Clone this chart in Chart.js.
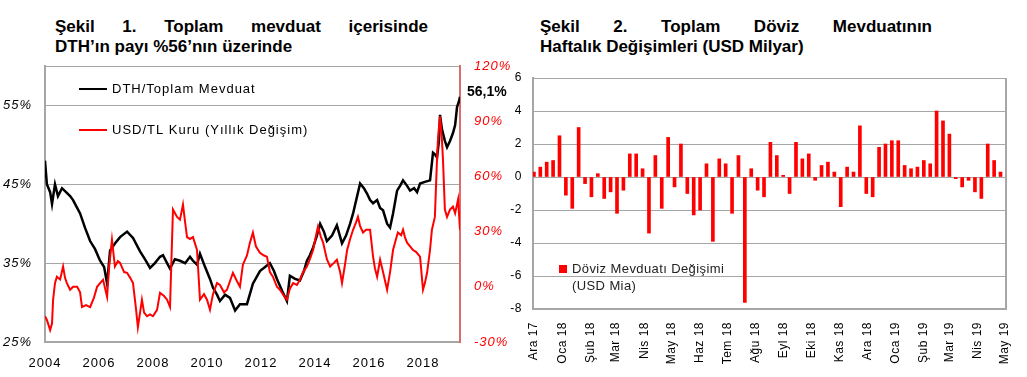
<!DOCTYPE html>
<html>
<head>
<meta charset="utf-8">
<script src="https://cdn.jsdelivr.net/npm/chart.js@4"></script>
<style>
  body { margin: 0; width: 1027px; height: 377px; position: relative; overflow: hidden; background: #fff;
         font-family: "Liberation Sans", Arial, sans-serif; }
  canvas { position: absolute; top: 0; }
  #c1 { left: 0; }
  #c2 { left: 490px; }
  .title { position: absolute; top: 17px; font-weight: bold; font-size: 17px; line-height: 20px; color: #000; }
  .title .j { text-align: justify; text-align-last: justify; }
  #t1 { left: 55px; width: 373px; }
  #t2 { left: 540px; width: 392px; }
</style>
</head>
<body>
<div class="title" id="t1"><div class="j">Şekil 1. Toplam mevduat içerisinde</div><div>DTH’ın payı %56’nın üzerinde</div></div>
<div class="title" id="t2"><div class="j">Şekil 2. Toplam Döviz Mevduatının</div><div>Haftalık Değişimleri (USD Milyar)</div></div>
<canvas id="c1" width="515" height="377"></canvas>
<canvas id="c2" width="537" height="377"></canvas>
<script>
// Şekil 1: DTH / toplam mevduat (sol eksen) ve USD/TL yıllık değişim (sağ eksen)
const dthYears = [2004.00, 2004.07, 2004.19, 2004.26, 2004.37, 2004.48, 2004.63, 2004.78, 2004.93, 2005.04,
  2005.19, 2005.30, 2005.48, 2005.67, 2005.85, 2006.04, 2006.19, 2006.30, 2006.41, 2006.59,
  2006.78, 2007.04, 2007.26, 2007.52, 2007.70, 2007.89, 2008.07, 2008.26, 2008.37, 2008.52,
  2008.63, 2008.81, 2009.00, 2009.19, 2009.37, 2009.48, 2009.63, 2009.74, 2009.93, 2010.11,
  2010.22, 2010.37, 2010.48, 2010.67, 2010.85, 2011.04, 2011.22, 2011.48, 2011.70, 2011.96,
  2012.15, 2012.33, 2012.48, 2012.59, 2012.78, 2012.96, 2013.07, 2013.26, 2013.44, 2013.59,
  2013.70, 2013.81, 2013.93, 2014.07, 2014.19, 2014.33, 2014.44, 2014.63, 2014.81, 2015.00,
  2015.15, 2015.30, 2015.41, 2015.56, 2015.67, 2015.81, 2015.93, 2016.04, 2016.15, 2016.30,
  2016.41, 2016.52, 2016.67, 2016.78, 2016.89, 2017.04, 2017.15, 2017.26, 2017.41, 2017.52,
  2017.67, 2017.78, 2017.89, 2018.07, 2018.26, 2018.37, 2018.44, 2018.52, 2018.59, 2018.63,
  2018.70, 2018.81, 2018.89, 2019.00, 2019.11, 2019.19, 2019.26, 2019.33, 2019.37];
const dthShare = [48.0, 45.0, 44.0, 42.5, 45.0, 43.5, 44.5, 44.0, 43.5, 43.0,
  42.0, 41.3, 39.5, 37.8, 36.8, 35.3, 34.5, 32.4, 36.6, 37.5,
  38.3, 39.0, 38.2, 36.5, 35.5, 34.4, 35.0, 35.8, 36.0, 35.0,
  34.3, 35.5, 35.3, 35.0, 35.8, 35.3, 34.8, 36.2, 34.5, 33.0,
  31.9, 31.0, 30.2, 31.0, 30.6, 29.0, 29.8, 29.8, 32.4, 34.0,
  34.5, 35.0, 34.0, 33.0, 31.5, 30.2, 33.4, 33.0, 32.8, 34.0,
  35.3, 36.0, 37.0, 38.5, 40.0, 39.0, 37.8, 38.5, 39.8, 37.5,
  38.5, 40.0, 41.3, 43.5, 45.1, 44.5, 43.8, 43.0, 42.6, 43.0,
  42.0, 41.7, 40.0, 39.5, 41.3, 44.2, 44.8, 45.5, 44.8, 44.2,
  44.5, 44.0, 45.1, 45.3, 45.5, 49.0, 48.8, 48.4, 50.5, 53.8,
  52.0, 50.5, 49.7, 50.5, 51.5, 52.5, 54.8, 55.5, 56.1];

const usdYears = [2004.00, 2004.07, 2004.19, 2004.26, 2004.30, 2004.37, 2004.44, 2004.56, 2004.67, 2004.74,
  2004.81, 2004.93, 2005.04, 2005.19, 2005.30, 2005.37, 2005.52, 2005.67, 2005.81, 2005.93,
  2006.04, 2006.15, 2006.30, 2006.37, 2006.48, 2006.59, 2006.70, 2006.78, 2006.93, 2007.04,
  2007.15, 2007.26, 2007.37, 2007.44, 2007.52, 2007.59, 2007.67, 2007.78, 2007.89, 2008.00,
  2008.15, 2008.26, 2008.41, 2008.52, 2008.63, 2008.74, 2008.89, 2009.00, 2009.11, 2009.19,
  2009.26, 2009.37, 2009.48, 2009.63, 2009.74, 2009.89, 2010.00, 2010.11, 2010.22, 2010.37,
  2010.48, 2010.63, 2010.74, 2010.85, 2010.96, 2011.11, 2011.22, 2011.33, 2011.48, 2011.59,
  2011.70, 2011.81, 2011.96, 2012.11, 2012.22, 2012.33, 2012.44, 2012.59, 2012.70, 2012.85,
  2012.96, 2013.07, 2013.19, 2013.33, 2013.44, 2013.56, 2013.70, 2013.81, 2013.93, 2014.04,
  2014.11, 2014.22, 2014.30, 2014.44, 2014.56, 2014.70, 2014.81, 2014.93, 2015.00, 2015.11,
  2015.19, 2015.30, 2015.41, 2015.52, 2015.59, 2015.67, 2015.78, 2015.89, 2016.04, 2016.15,
  2016.22, 2016.30, 2016.41, 2016.52, 2016.67, 2016.78, 2016.89, 2017.00, 2017.07, 2017.19,
  2017.26, 2017.33, 2017.41, 2017.52, 2017.63, 2017.74, 2017.89, 2018.00, 2018.07, 2018.15,
  2018.26, 2018.33, 2018.44, 2018.52, 2018.56, 2018.63, 2018.70, 2018.74, 2018.81, 2018.89,
  2019.00, 2019.11, 2019.19, 2019.30, 2019.37];
const usdChange = [-16, -18, -23.5, -20, -7, 2, 5.5, 4, 11, 5,
  2, -1.6, 0, 0, -3, -11, -10, -11, -6, 0,
  2, 3.8, -5.5, 10, 25.6, 11, 14, 13, 8, 7.6,
  5, 2, -12, -22, -14, -7, -14, -16, -15, -16,
  -12.5, -3.3, -5, -7, -11, 42, 38, 36.5, 44.7, 35,
  27, 26, 27, 20, -7, -4, -7, -12.5, -4, 2,
  1, -3, -1.6, 3, 7.6, 3, 0, 12, 17, 24,
  29.5, 22, 18.5, 17, 16.4, 8, 5.5, 0, -1.6, -5,
  -7, -1, 2, 1, 3.8, 8, 11, 15, 20, 28,
  32.7, 27, 24, 15, 11, 13, 14.7, 8, 2, 12,
  20, 26, 31, 35, 38, 33, 29.5, 31, 31, 16.4,
  10, 5.5, 14.7, 8, -1.6, 8, 20, 26, 29.5, 28,
  31, 27, 24, 22, 20, 19, 16.4, -1.6, 2, 7.6,
  20, 31, 38, 70, 81.8, 92.7, 80, 69, 42, 38,
  42, 43.6, 40, 47.5, 31];

const yearTicks = [2004, 2006, 2008, 2010, 2012, 2014, 2016, 2018];
const shareTicks = [25, 35, 45, 55, 60];

// Şekil 2: haftalık döviz mevduatı değişimi (1 Aralık 2017'den itibaren her cuma)
const weeklyChange = [0.3, 0.6, 0.9, 1.0, 2.5, -1.1, -1.9, 3.0, -0.4, -1.2,
  0.2, -1.3, -0.9, -2.2, -0.8, 1.4, 1.4, 0.5, -3.4, 1.3,
  -1.9, 2.4, -0.6, 2.0, -1.0, -2.3, -2.0, 0.8, -3.9, 1.1,
  0.8, -2.2, 1.3, -7.6, 0.5, -0.8, -1.2, 2.1, 1.3, 0.1,
  -1.0, 2.1, 1.1, 1.4, -0.2, 0.7, 0.9, 0.3, -1.8, 0.6,
  0.3, 3.1, -1.0, -1.2, 1.8, 2.0, 2.2, 2.2, 0.7, 0.5,
  0.6, 1.0, 0.8, 4.0, 3.4, 2.6, -0.1, -0.6, -0.2, -0.9,
  -1.3, 2.0, 1.0, 0.3];
const monthLabels = ['Ara 17', 'Oca 18', 'Şub 18', 'Mar 18', 'Nis 18', 'May 18', 'Haz 18', 'Tem 18', 'Ağu 18',
  'Eyl 18', 'Eki 18', 'Kas 18', 'Ara 18', 'Oca 19', 'Şub 19', 'Mar 19', 'Nis 19', 'May 19'];
const monthDays = [0, 31, 62, 90, 121, 151, 182, 212, 243, 274, 304, 335, 365, 396, 427, 455, 486, 516];

const FONT = '"Liberation Sans", Arial, sans-serif';
const GRID = '#a6a6a6';
Chart.defaults.font.family = FONT;
Chart.defaults.animation = false;

const spacing = (px) => ({
  id: 'spacing',
  beforeDraw(chart) { chart.ctx.letterSpacing = px; }
});

const legend1 = {
  id: 'legend1',
  afterDraw(chart) {
    const ctx = chart.ctx;
    ctx.save();
    ctx.font = '13px ' + FONT;
    ctx.letterSpacing = '1px';
    ctx.textBaseline = 'middle';
    ctx.lineWidth = 2;
    [['#000', 'DTH/Toplam Mevduat', 89], ['#ff0000', 'USD/TL Kuru (Yıllık Değişim)', 130]].forEach(([c, t, y]) => {
      ctx.strokeStyle = c;
      ctx.beginPath();
      ctx.moveTo(79, y);
      ctx.lineTo(107, y);
      ctx.stroke();
      ctx.fillStyle = '#000';
      ctx.fillText(t, 112, y);
    });
    ctx.letterSpacing = '0px';
    ctx.font = 'bold 14px ' + FONT;
    ctx.fillText('56,1%', 467, 92);
    ctx.restore();
  }
};

const legend2 = {
  id: 'legend2',
  afterDraw(chart) {
    const ctx = chart.ctx;
    const a = chart.chartArea;
    ctx.save();
    ctx.strokeStyle = GRID;
    ctx.lineWidth = 2;
    ctx.beginPath();
    ctx.moveTo(a.right, a.top);
    ctx.lineTo(a.right, a.bottom);
    ctx.stroke();
    ctx.fillStyle = '#ff0000';
    ctx.fillRect(69, 265, 8, 8);
    ctx.fillStyle = '#222';
    ctx.font = '13px ' + FONT;
    ctx.letterSpacing = '0.4px';
    ctx.textBaseline = 'middle';
    ctx.fillText('Döviz Mevduatı Değişimi', 82, 269);
    ctx.fillText('(USD Mia)', 82, 286);
    ctx.restore();
  }
};

new Chart(document.getElementById('c1'), {
  type: 'line',
  data: {
    datasets: [
      { label: 'USD/TL Kuru (Yıllık Değişim)', data: usdYears.map((x, i) => ({ x, y: usdChange[i] })),
        borderColor: '#ff0000', borderWidth: 2, pointRadius: 0, yAxisID: 'y2', order: 0 },
      { label: 'DTH/Toplam Mevduat', data: dthYears.map((x, i) => ({ x, y: dthShare[i] })),
        borderColor: '#000', borderWidth: 2.5, pointRadius: 0, yAxisID: 'y', order: 1 }
    ]
  },
  options: {
    responsive: false,
    devicePixelRatio: 1,
    layout: { padding: { top: 66 } },
    plugins: { legend: { display: false }, tooltip: { enabled: false } },
    scales: {
      x: {
        type: 'linear', min: 2004, max: 2019.37,
        afterBuildTicks: s => { s.ticks = yearTicks.map(v => ({ value: v })); },
        afterFit: s => { s.height = 35; },
        grid: { display: false },
        border: { color: GRID, width: 2 },
        ticks: { color: '#000', font: { size: 13 }, padding: 6, maxRotation: 0, autoSkip: false, callback: v => String(v) }
      },
      y: {
        position: 'left', min: 25, max: 60,
        afterBuildTicks: s => { s.ticks = shareTicks.map(v => ({ value: v })); },
        afterFit: s => { s.width = 45; },
        grid: { color: GRID, drawTicks: false },
        border: { color: GRID, width: 2 },
        ticks: { padding: 13, color: '#000', font: { size: 13, style: 'italic' }, callback: v => v === 60 ? '' : v + '%' }
      },
      y2: {
        position: 'right', min: -30, max: 120,
        afterFit: s => { s.width = 55; },
        grid: { display: false, drawTicks: false },
        border: { color: '#e06b6b', width: 2 },
        ticks: { stepSize: 30, padding: 14, color: '#ff0000', font: { size: 13, style: 'italic' }, callback: v => v + '%' }
      }
    }
  },
  plugins: [spacing('1px'), legend1]
});

new Chart(document.getElementById('c2'), {
  type: 'bar',
  data: {
    datasets: [{
      label: 'Döviz Mevduatı Değişimi',
      data: weeklyChange.map((y, i) => ({ x: i * 7, y })),
      backgroundColor: '#ff0000',
      barThickness: 3
    }]
  },
  options: {
    responsive: false,
    devicePixelRatio: 1,
    layout: { padding: { top: 78, right: 21 } },
    plugins: { legend: { display: false }, tooltip: { enabled: false } },
    scales: {
      x: {
        type: 'linear', min: -1, max: 517, offset: false,
        afterBuildTicks: s => { s.ticks = monthDays.map(v => ({ value: v })); },
        afterFit: s => { s.height = 68; },
        grid: { display: false, offset: false },
        border: { color: GRID, width: 2 },
        ticks: { autoSkip: false, minRotation: 90, maxRotation: 90, padding: 5, color: '#000', font: { size: 12 },
                 callback: (v, i) => monthLabels[i] }
      },
      y: {
        min: -8, max: 6,
        afterFit: s => { s.width = 43; },
        grid: { color: GRID, drawTicks: false },
        border: { color: GRID, width: 2 },
        ticks: { stepSize: 2, padding: 11, color: '#000', font: { size: 12 } }
      }
    }
  },
  plugins: [spacing('0.5px'), legend2]
});
</script>
</body>
</html>
